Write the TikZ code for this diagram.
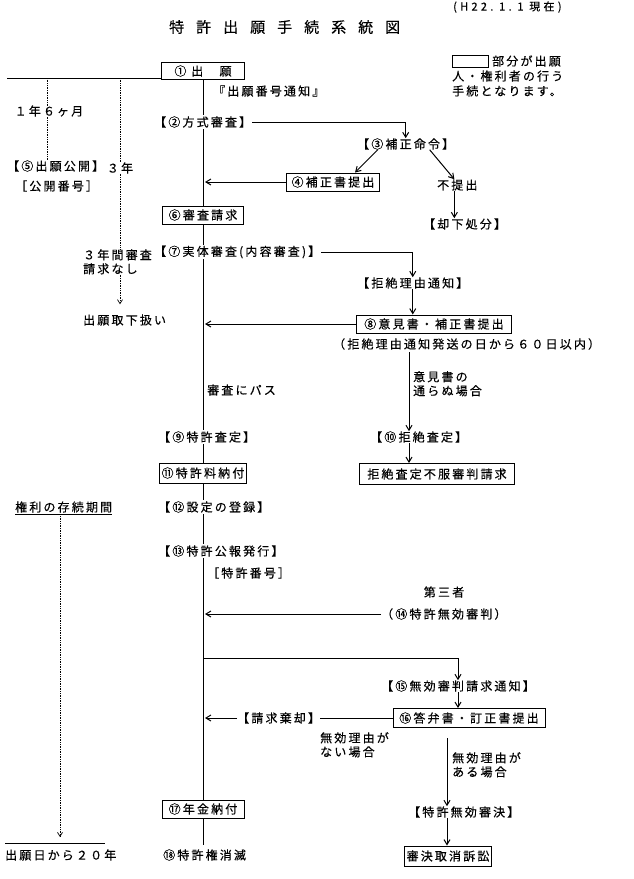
\documentclass[tikz,border=0pt]{standalone}
\usepackage{fontspec}
\setmainfont{Noto Sans CJK JP}
\newfontfamily\jp{Noto Sans CJK JP}[LetterSpace=18,FakeBold=0.3]
\newfontfamily\jpd{Noto Sans CJK JP}[LetterSpace=30,FakeBold=0.3]
\newfontfamily\jpt{Noto Sans CJK JP}[LetterSpace=80,FakeBold=0.3]
\usetikzlibrary{arrows.meta,backgrounds}
\pgfdeclarelayer{bottom}
\pgfsetlayers{bottom,background,main}
\tikzset{
  txt/.style={inner sep=0pt, font=\jp\fontsize{12}{14}\selectfont, align=left},
  onl/.style={txt, fill=white, inner sep=1pt},
  box/.style={txt, draw, fill=white, line width=1pt, inner xsep=2pt, inner ysep=3pt, align=center},
  conn/.style={line width=1pt},
  arr/.style={conn, -{Straight Barb[length=5pt,width=6pt]}},
  dots/.style={densely dotted, line width=0.7pt},
  darr/.style={dots, -{Straight Barb[length=4pt,width=5pt]}},
}
\begin{document}
\begin{tikzpicture}[x=1pt,y=-1pt]
\begin{pgfonlayer}{bottom}
\fill[white] (0,0) rectangle (633,879);
\end{pgfonlayer}
\useasboundingbox (0,0) rectangle (633,879);

% title and date
\node[inner sep=0pt, anchor=west, font=\jpd\fontsize{11}{13}\selectfont] (date) at (453,7) {(H22.\ 1.\ 1\ 現在)};
\node[inner sep=0pt, anchor=west, font=\jpt\fontsize{15}{17}\selectfont] (title) at (169,27) {特許出願手続系統図};

% legend
\node[draw, line width=1pt, minimum width=36pt, minimum height=12pt, inner sep=0pt] (leg) at (470,61) {};
\node[txt, anchor=west] (leg1) at (492,61) {部分が出願};
\node[txt, anchor=west] (leg2) at (452,76) {人・権利者の行う};
\node[txt, anchor=west] (leg3) at (452,91) {手続となります。};

% main column
\node[box, minimum width=83pt, minimum height=17pt] (b1) at (203,71) {①\ 出　願};
\node[txt, anchor=west] (ntc) at (213,91) {『出願番号通知』};
\node[onl, anchor=west] (n2) at (153,122) {【②方式審査】};
\node[box, minimum width=81pt, minimum height=18pt] (b6) at (203,215) {⑥審査請求};
\node[onl, anchor=west] (n7) at (153,252) {【⑦実体審査(内容審査)】};
\node[txt, anchor=west] (pass) at (207,390) {審査にパス};
\node[onl, anchor=west] (n9) at (157,437) {【⑨特許査定】};
\node[box, minimum width=84pt, minimum height=20pt] (b11) at (203,473) {⑪特許料納付};
\node[onl, anchor=west] (n12) at (157,507) {【⑫設定の登録】};
\node[onl, anchor=west] (n13) at (157,551) {【⑬特許公報発行】};
\node[txt, anchor=west] (num) at (207,573) {［特許番号］};
\node[box, minimum width=82pt, minimum height=18pt] (b17) at (203,809) {⑰年金納付};
\node[txt, anchor=west] (t18) at (163,855) {⑱特許権消滅};
\coordinate (end18) at (203,845);

% left column
\coordinate (tl) at (7,78);
\coordinate (d1) at (47,78);
\coordinate (d2) at (120,78);
\node[txt] (t16) at (49,111) {１年６ヶ月};
\node[txt, anchor=west] (n5) at (7,166) {【⑤出願公開】};
\node[txt, anchor=west] (n5b) at (15,186) {［公開番号］};
\node[txt] (t3) at (120,168) {３年};
\node[txt, anchor=north west] (t3n) at (83,249) {３年間審査\\請求なし};
\node[txt, anchor=west] (tw) at (83,320) {出願取下扱い};
\node[txt, anchor=west] (kenri) at (15,507) {権利の存続期間};
\coordinate (k1) at (60,516);
\coordinate (h1) at (5,843);
\coordinate (h2) at (105,843);
\node[txt, anchor=west] (t20) at (5,855) {出願日から２０年};

% right upper
\node[txt, anchor=west] (n3) at (357,144) {【③補正命令】};
\node[box, minimum width=93pt, minimum height=18pt] (b4) at (333,182) {④補正書提出};
\node[txt, anchor=west] (n3b) at (437,185) {不提出};
\node[txt, anchor=west] (n3c) at (423,224) {【却下処分】};
\node[txt, anchor=west] (n7r) at (357,283) {【拒絶理由通知】};
\node[box, minimum width=155pt, minimum height=18pt] (b8) at (434,324) {⑧意見書・補正書提出};
\node[txt, anchor=west] (t60) at (333,344) {（拒絶理由通知発送の日から６０日以内）};
\coordinate (c8) at (409,352);
\node[txt, anchor=north west] (fail) at (413,371) {意見書の\\通らぬ場合};
\node[txt, anchor=west] (n10) at (370,437) {【⑩拒絶査定】};
\node[box, minimum width=155pt, minimum height=21pt] (bfuf) at (437,474) {拒絶査定不服審判請求};

% right lower
\node[txt] (third) at (444,592) {第三者};
\node[txt, anchor=west] (n14) at (381,614) {（⑭特許無効審判）};
\coordinate (br) at (203,658);
\node[txt, anchor=west] (n15) at (381,686) {【⑮無効審判請求通知】};
\node[box, minimum width=152pt, minimum height=19pt] (b16) at (469,718) {⑯答弁書・訂正書提出};
\node[txt, anchor=west] (kik) at (237,718) {【請求棄却】};
\node[txt, anchor=north west] (nai) at (320,732) {無効理由が\\ない場合};
\coordinate (c16) at (447,738);
\node[txt, anchor=north west] (aru) at (452,752) {無効理由が\\ある場合};
\node[txt, anchor=west] (mk) at (408,812) {【特許無効審決】};
\node[box, minimum width=77pt, minimum height=20pt] (bsk) at (448,856) {審決取消訴訟};

\begin{scope}[on background layer]
  % spine
  \draw[conn] (b1.south) -- (b6.north);
  \draw[conn] (b6.south) -- (b11.north);
  \draw[conn] (b11.south) -- (b17.north);
  \draw[conn] (b17.south) -- (end18);
\end{scope}

% top line and left dotted lines
\draw[conn] (tl) -- (tl -| b1.west);
\draw[dots] (d1) -- (t16.north -| d1);
\draw[dots] (t16.south -| d1) -- (n5.north -| d1);
\draw[dots] (d2) -- (t3.north);
\draw[dots] (t3.south) -- (t3n.north -| t3.south);
\draw[darr] (t3n.south -| t3.south) -- ([yshift=10pt]tw.north -| t3.south);
\draw[conn] ([yshift=-2pt]kenri.south west) -- ([yshift=-2pt]kenri.south east);
\draw[darr] (k1) -- ([yshift=6pt]k1 |- h1);
\draw[conn] (h1) -- (h2);

% formality check branch
\draw[arr] (n2.east) -| (n3.north);
\draw[arr] ([xshift=-28pt]n3.south) -- ([xshift=22pt]b4.north);
\draw[arr] ([xshift=24pt]n3.south) -- ([xshift=-3pt]n3b.north);
\draw[arr] ([xshift=-3pt]n3b.south) -- ([xshift=-3pt]n3b.south |- n3c.north);
\draw[arr] (b4.west) -- ([xshift=2pt]b4.west -| b1.south);

% substantive examination branch
\draw[arr] (n7.east) -| (n7r.north);
\draw[arr] (n7r.south) -- (n7r.south |- b8.north);
\draw[arr] (b8.west) -- ([xshift=2pt]b8.west -| b1.south);
\draw[arr] (c8) -- (c8 |- n10.north);
\draw[arr] (n10.south -| c8) -- (bfuf.north -| c8);

% invalidation trial
\draw[arr] (n14.west) -- ([xshift=2pt]n14.west -| b1.south);
\draw[arr] (br) -| (n15.north);
\draw[arr] (n15.south) -- (n15.south |- b16.north);
\draw[conn] (b16.west) -- (kik.east);
\draw[arr] (kik.west) -- ([xshift=2pt]kik.west -| b1.south);
\draw[arr] (c16) -- (c16 |- mk.north);
\draw[arr] (mk.south -| c16) -- (bsk.north -| c16);
\end{tikzpicture}
\end{document}
